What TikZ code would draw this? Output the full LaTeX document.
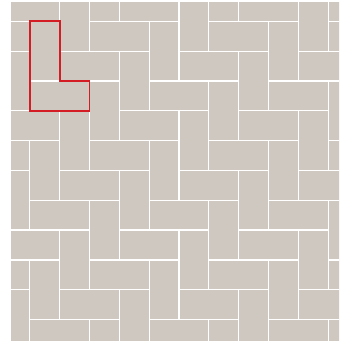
\documentclass[tikz,border=0pt]{standalone}
\usepackage{xcolor}
\usepackage{tikz}
\definecolor{tilegray}{RGB}{206,200,192}
\definecolor{markred}{RGB}{212,28,36}
\tikzset{
  tile/.style={fill=tilegray,draw=white,line width=1.2pt},
  outline/.style={draw=markred,line width=1.6pt,line join=miter}
}

\begin{document}
\begin{tikzpicture}[x=1cm,y=1cm]
  \fill[white] (0,0) rectangle (11.364,11.498);
  \useasboundingbox (0,0) rectangle (11.364,11.498);
  \begin{scope}
    \clip (0.369,0.1) rectangle (11.364,11.398);
    \begin{scope}[shift={(0,10.784)},yscale=-1]
      \foreach \a in {-12,...,12}
        \foreach \b in {-6,...,6} {
          \pgfmathtruncatemacro{\i}{1+\a+2*\b}
          \pgfmathtruncatemacro{\j}{-\a+2*\b}
          \draw[tile] (\i,\j) rectangle ++(1,2);
          \draw[tile] (\i,\j+2) rectangle ++(2,1);
        }
    \end{scope}
  \end{scope}
  % marked L
  \begin{scope}[shift={(0,10.784)},yscale=-1]
    \draw[outline] (1,0) -- (2,0) -- (2,2) -- (3,2) -- (3,3) -- (1,3) -- cycle;
  \end{scope}
\end{tikzpicture}
\end{document}
